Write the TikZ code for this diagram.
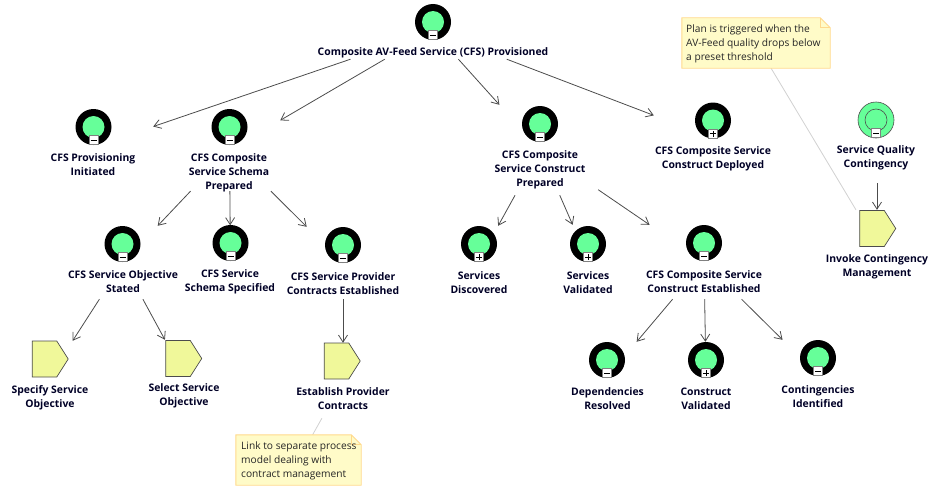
\documentclass[tikz,border=0pt]{standalone}
\usepackage{fontspec}
\setmainfont{Open Sans}
\usetikzlibrary{arrows.meta,shapes.symbols}

\definecolor{goalgreen}{HTML}{66FF99}
\definecolor{tagfill}{HTML}{F0F89A}
\definecolor{notefill}{HTML}{FFFBC8}
\definecolor{noteedge}{HTML}{FFD98C}

\tikzset{
  elem/.style={rectangle,inner sep=0pt,minimum width=120pt},
  lbl/.style={align=center,inner sep=0pt,yshift=-1pt,text=black!85!blue,font=\fontsize{10.4}{14}\selectfont\bfseries},
  notetext/.style={align=left,inner sep=0pt,yshift=-1pt,text=black!85,font=\fontsize{10.2}{14}\selectfont},
  goalring/.style={circle,fill=black,inner sep=0pt,minimum size=36pt},
  goalbulb/.style={circle,fill=goalgreen,inner sep=0pt,minimum size=22pt},
  signbox/.style={rectangle,draw=gray,fill=white,line width=0.6pt,inner sep=0pt,minimum size=9pt},
  minusbox/.style={signbox,path picture={
    \draw[black,line width=0.8pt] ([xshift=-3pt]path picture bounding box.center) -- ([xshift=3pt]path picture bounding box.center);}},
  plusbox/.style={signbox,path picture={
    \draw[black,line width=0.8pt] ([xshift=-3pt]path picture bounding box.center) -- ([xshift=3pt]path picture bounding box.center);
    \draw[black,line width=0.8pt] ([yshift=-3pt]path picture bounding box.center) -- ([yshift=3pt]path picture bounding box.center);}},
  plantag/.style={signal,signal to=east,signal from=nowhere,signal pointer angle=115,draw=black!70,fill=tagfill,
    line width=0.7pt,inner sep=0pt,minimum width=36pt,minimum height=36pt},
  conn/.style={draw=black!70,line width=0.8pt,-{Straight Barb[length=7pt,width=9pt]}},
  noteline/.style={draw=black!18,line width=0.8pt},
  notebox/.style={rectangle,inner sep=0pt}
}

% name, position, sign box
\newcommand{\goalicon}[3]{
  \node[goalring] (#1icon) at (#2) {};
  \node[goalbulb] (#1bulb) at (#1icon) {};
  \node[#3] (#1box) at ([yshift=-13pt]#1icon) {};
}
% note body with a folded corner
\newcommand{\notefold}[1]{
  \draw[noteedge,fill=notefill,line width=0.9pt] (#1.north west) -- ([xshift=-10pt]#1.north east)
    -- ([yshift=-10pt]#1.north east) -- (#1.south east) -- (#1.south west) -- cycle;
  \draw[noteedge,line width=0.9pt] ([xshift=-10pt]#1.north east) -- ([xshift=-10pt,yshift=-10pt]#1.north east)
    -- ([yshift=-10pt]#1.north east);
}

\begin{document}
\begin{tikzpicture}[x=1pt,y=-1pt]
  \useasboundingbox (0,0) rectangle (928,487);

  % element areas, connectors end on these
  \node[elem,minimum width=240pt,minimum height=56pt] (top) at (433,31) {};
  \node[elem,minimum height=76pt] (prov) at (93,147) {};
  \node[elem,minimum width=101pt,minimum height=82pt] (schema) at (229.5,150) {};
  \node[elem,minimum height=73pt] (objective) at (123,262.5) {};
  \node[elem,minimum height=73pt] (specified) at (230.5,262) {};
  \node[elem,minimum height=72pt] (contracts) at (343,263) {};
  \node[elem,minimum height=70pt] (specify) at (50,376) {};
  \node[elem,minimum height=70pt] (select) at (184,375) {};
  \node[elem,minimum height=75pt] (establish) at (343,380.5) {};
  \node[elem,minimum width=116pt,minimum height=90pt] (prepared) at (540,150) {};
  \node[elem,minimum width=118pt,minimum height=70pt] (deployed) at (713,138) {};
  \node[elem,minimum height=69pt] (discovered) at (479,260.5) {};
  \node[elem,minimum height=70pt] (validated) at (588,260) {};
  \node[elem,minimum height=74pt] (established) at (704,262) {};
  \node[elem,minimum height=70pt] (resolved) at (607,377) {};
  \node[elem,minimum height=70pt] (cvalidated) at (706,377) {};
  \node[elem,minimum height=70pt] (identified) at (818,375) {};
  \node[elem,minimum height=72pt] (quality) at (877,147) {};
  \node[elem,minimum height=70pt] (invoke) at (877,245) {};

  % note connectors
  \node[notebox,minimum width=148pt,minimum height=50pt] (noteplanbox) at (756,43) {};
  \node[notebox,minimum width=125pt,minimum height=50pt] (notelinkbox) at (298.5,460) {};
  \draw[noteline] (noteplanbox) -- (invoke);
  \draw[noteline] (notelinkbox) -- (establish);

  % goals
  \goalicon{top}{433,22}{minusbox}
  \goalicon{prov}{93.5,127}{minusbox}
  \goalicon{schema}{229.5,127}{minusbox}
  \goalicon{objective}{122.5,244}{minusbox}
  \goalicon{specified}{230.5,243}{minusbox}
  \goalicon{contracts}{343,245}{minusbox}
  \goalicon{prepared}{540,124}{minusbox}
  \goalicon{deployed}{713,120.5}{plusbox}
  \goalicon{discovered}{479,244}{plusbox}
  \goalicon{validated}{588,244}{plusbox}
  \goalicon{established}{704,243}{minusbox}
  \goalicon{resolved}{607,360}{minusbox}
  \goalicon{cvalidated}{706,360}{plusbox}
  \goalicon{identified}{818,358}{minusbox}

  % contingency
  \node[goalring,fill=goalgreen,draw=black!70,line width=0.6pt] (qualityicon) at (876,120) {};
  \node[goalring,fill=goalgreen,draw=black!70,line width=0.6pt,minimum size=22pt] (qualitybulb) at (qualityicon) {};
  \node[minusbox] (qualitybox) at ([yshift=-13pt]qualityicon) {};

  % plans
  \node[plantag] (specifytag) at (44.5,359) {};
  \node[plantag] (selecttag) at (178,358.5) {};
  \node[plantag] (establishtag) at (336.5,361) {};
  \node[plantag] (invoketag) at (872,228.5) {};

  % labels
  \node[lbl] (toplbl) at (433,52) {Composite AV-Feed Service (CFS) Provisioned};
  \node[lbl] (provlbl) at (93,164) {CFS Provisioning\\Initiated};
  \node[lbl] (schemalbl) at (229,172) {CFS Composite\\Service Schema\\Prepared};
  \node[lbl] (objectivelbl) at (123,281) {CFS Service Objective\\Stated};
  \node[lbl] (specifiedlbl) at (230,280.5) {CFS Service\\Schema Specified};
  \node[lbl] (contractslbl) at (343,282.5) {CFS Service Provider\\Contracts Established};
  \node[lbl] (specifylbl) at (50,396.5) {Specify Service\\Objective};
  \node[lbl] (selectlbl) at (184,395) {Select Service\\Objective};
  \node[lbl] (establishlbl) at (343,398) {Establish Provider\\Contracts};
  \node[lbl] (preparedlbl) at (540,168.5) {CFS Composite\\Service Construct\\Prepared};
  \node[lbl] (deployedlbl) at (713,158) {CFS Composite Service\\Construct Deployed};
  \node[lbl] (discoveredlbl) at (479,281.5) {Services\\Discovered};
  \node[lbl] (validatedlbl) at (588,281.5) {Services\\Validated};
  \node[lbl] (establishedlbl) at (704,281) {CFS Composite Service\\Construct Established};
  \node[lbl] (resolvedlbl) at (607.5,397.5) {Dependencies\\Resolved};
  \node[lbl] (cvalidatedlbl) at (706,397.5) {Construct\\Validated};
  \node[lbl] (identifiedlbl) at (818,395.5) {Contingencies\\Identified};
  \node[lbl] (qualitylbl) at (876,157) {Service Quality\\Contingency};
  \node[lbl] (invokelbl) at (877,266) {Invoke Contingency\\Management};

  % notes
  \notefold{noteplanbox}
  \notefold{notelinkbox}
  \node[notetext,anchor=west] (noteplan) at (686,43) {Plan is triggered when the\\AV-Feed quality drops below\\a preset threshold};
  \node[notetext,anchor=west] (notelink) at (241,460) {Link to separate process\\model dealing with\\contract management};

  % decomposition
  \draw[conn] (top) -- (prov);
  \draw[conn] (top) -- (schema);
  \draw[conn] (top) -- (prepared);
  \draw[conn] (top) -- (deployed);
  \draw[conn] (schema) -- (objective);
  \draw[conn] (schema) -- (specified);
  \draw[conn] (schema) -- (contracts);
  \draw[conn] (objective) -- (specify);
  \draw[conn] (objective) -- (select);
  \draw[conn] (contracts) -- (establish);
  \draw[conn] (prepared) -- (discovered);
  \draw[conn] (prepared) -- (validated);
  \draw[conn] (prepared) -- (established);
  \draw[conn] (established) -- (resolved);
  \draw[conn] (established) -- (cvalidated);
  \draw[conn] (established) -- (identified);
  \draw[conn] (quality) -- (invoke);
\end{tikzpicture}
\end{document}
